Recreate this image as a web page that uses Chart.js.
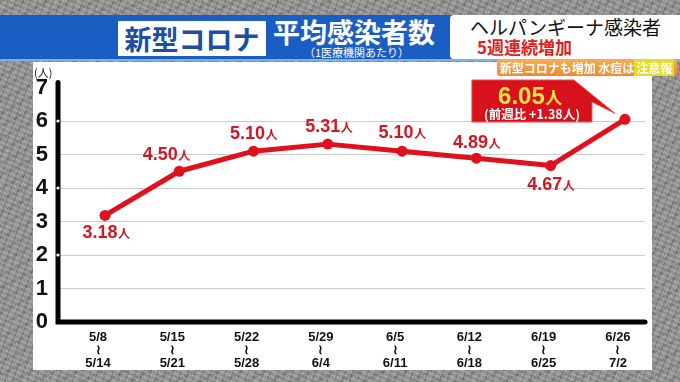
<!DOCTYPE html>
<html><head><meta charset="utf-8">
<script src="https://cdn.jsdelivr.net/npm/chart.js@4.4.0/dist/chart.umd.min.js"></script>
<style>
html,body{margin:0;padding:0;width:680px;height:382px;overflow:hidden;background:#8c8c8c;font-family:"Noto Sans CJK JP",sans-serif;}
#bg{position:absolute;left:0;top:0;width:680px;height:382px;
 background:
  repeating-linear-gradient(23deg, rgba(255,255,255,0.16) 0 2px, rgba(0,0,0,0) 2px 5px),
  repeating-linear-gradient(111deg, rgba(0,0,0,0.13) 0 2px, rgba(0,0,0,0) 2px 7px),
  repeating-linear-gradient(67deg, rgba(255,255,255,0.10) 0 1px, rgba(0,0,0,0) 1px 3px),
  repeating-linear-gradient(152deg, rgba(0,0,0,0.10) 0 3px, rgba(0,0,0,0) 3px 11px),
  #8f8f8f;}
#band{position:absolute;left:0;top:15px;width:680px;height:44px;background:#1b5ec3;border-bottom:2px solid #7fb0e6;}
#tag1{position:absolute;left:118px;top:21px;width:148px;height:35px;background:#fff;color:#1d4ea3;font-weight:bold;font-size:27px;line-height:35px;text-align:center;}
#title{position:absolute;left:273px;top:15px;color:#fff;font-weight:bold;font-size:27px;line-height:34px;white-space:nowrap;}
#sub{position:absolute;left:304px;top:45px;color:#fff;font-size:11px;line-height:14px;white-space:nowrap;}
#rbox{position:absolute;left:450px;top:15px;width:230px;height:44px;background:#fff;border-radius:4px 0 0 4px;}
#r1{position:absolute;left:470px;top:15px;color:#111;font-size:19px;line-height:24px;white-space:nowrap;}
#r2{position:absolute;left:477px;top:36px;color:#e02020;font-weight:bold;font-size:17px;line-height:22px;white-space:nowrap;}
#pill{position:absolute;left:497px;top:59px;width:180px;height:17px;background:linear-gradient(#f7ad55,#ef8a2c);border-radius:3px;color:#fff;font-weight:bold;font-size:12px;line-height:17px;white-space:nowrap;text-align:center;z-index:5;}
#pill span{background:#e3dd2a;color:#fff;padding:0 2px;}
#panel{position:absolute;left:33px;top:62px;width:619px;height:308px;background:#fff;}
#unit{position:absolute;left:34px;top:65px;color:#111;font-size:11px;line-height:14px;z-index:4;}
canvas{position:absolute;left:0;top:0;z-index:3;}
</style></head>
<body>
<div id="bg"></div>
<div id="panel"></div>
<div id="band"></div>
<div id="tag1">新型コロナ</div>
<div id="title">平均感染者数</div>
<div id="sub">（1医療機関あたり）</div>
<div id="rbox"></div>
<div id="r1">ヘルパンギーナ感染者</div>
<div id="r2">5週連続増加</div>
<div id="pill">新型コロナも増加 水痘は<span>注意報</span></div>
<div id="unit">(人)</div>
<canvas id="c" width="680" height="382"></canvas>
<script>
const weekStart = ['5/8','5/15','5/22','5/29','6/5','6/12','6/19','6/26'];
const weekEnd   = ['5/14','5/21','5/28','6/4','6/11','6/18','6/25','7/2'];
const values    = [3.18, 4.50, 5.10, 5.31, 5.10, 4.89, 4.67, 6.05];
const valueText = ['3.18','4.50','5.10','5.31','5.10','4.89','4.67','6.05'];
const changeText = '(前週比 +1.38人)';
const yTicks = [0,1,2,3,4,5,6,7];

const RED = '#e0101c';
const LABEL_RED = '#d01822';
const NUMFONT = '"Liberation Sans", "Noto Sans CJK JP", sans-serif';
const JPFONT = '"Noto Sans CJK JP", sans-serif';

// label offsets (pixels, relative to point)
const labelOffsets = [[1,16],[-13,-18],[0,-19],[1,-19],[0,-20],[0,-17],[0,18]];

const axesPlugin = {
  id:'axes',
  beforeDatasetsDraw(chart){
    const {ctx, chartArea:{left,right,top,bottom}} = chart;
    const ys = chart.scales.y;
    ctx.save();
    ctx.strokeStyle = '#000';
    ctx.lineWidth = 5;
    ctx.lineCap = 'round';
    ctx.lineJoin = 'miter';
    ctx.beginPath();
    ctx.moveTo(left, top - 5);
    ctx.lineTo(left, bottom);
    ctx.lineTo(right, bottom);
    ctx.stroke();
    ctx.fillStyle = '#fff';
    [2,4,6].forEach(v=>{
      ctx.beginPath();
      ctx.arc(left, ys.getPixelForValue(v), 1.6, 0, Math.PI*2);
      ctx.fill();
    });
    ctx.restore();
  }
};

function drawValue(ctx, cx, cy, num, color, numSize, unitSize){
  ctx.font = `bold ${numSize}px ${NUMFONT}`;
  const w1 = ctx.measureText(num).width;
  ctx.font = `bold ${unitSize}px ${JPFONT}`;
  const w2 = ctx.measureText('人').width;
  const x0 = cx - (w1 + w2)/2;
  const base = cy + numSize*0.36;
  ctx.fillStyle = color;
  ctx.textAlign = 'left';
  ctx.textBaseline = 'alphabetic';
  ctx.font = `bold ${numSize}px ${NUMFONT}`;
  ctx.fillText(num, x0, base);
  ctx.font = `bold ${unitSize}px ${JPFONT}`;
  ctx.fillText('人', x0 + w1 + 0.5, base);
}

const labelsPlugin = {
  id:'vlabels',
  afterDatasetsDraw(chart){
    const {ctx} = chart;
    const pts = chart.getDatasetMeta(0).data;
    ctx.save();
    for (let i = 0; i < pts.length - 1; i++){
      const p = pts[i];
      const [dx,dy] = labelOffsets[i];
      drawValue(ctx, p.x + dx, p.y + dy, valueText[i], LABEL_RED, 18, 12);
    }
    // callout for last point
    const last = pts[pts.length-1];
    const ys = chart.scales.y;
    const bTop = ys.getPixelForValue(7) - 7.5;
    const bBot = bTop + 42;
    const bRight = last.x - 33;
    const bLeft = bRight - 120;
    ctx.fillStyle = '#d8121c';
    ctx.strokeStyle = '#f04a4a';
    ctx.lineWidth = 1;
    ctx.beginPath();
    ctx.moveTo(bLeft, bTop);
    ctx.lineTo(bRight - 18, bTop);
    ctx.lineTo(last.x - 10, last.y - 6);
    ctx.lineTo(bRight, bTop + 22);
    ctx.lineTo(bRight, bBot);
    ctx.lineTo(bLeft, bBot);
    ctx.closePath();
    ctx.fill();
    ctx.stroke();
    const cx = (bLeft + bRight)/2;
    drawValue(ctx, cx - 2, bTop + 15, valueText[valueText.length-1], '#ffe23c', 24, 17);
    ctx.fillStyle = '#fff';
    ctx.font = `bold 12.5px ${JPFONT}`;
    ctx.textAlign = 'center';
    ctx.textBaseline = 'middle';
    ctx.fillText(changeText, cx, bTop + 34);
    ctx.restore();
  }
};

new Chart(document.getElementById('c').getContext('2d'), {
  type:'line',
  data:{datasets:[{
    data: values.map((v,i)=>({x:i, y:v})),
    borderColor: RED, backgroundColor: RED,
    borderWidth: 5, pointRadius: 5.5, pointHoverRadius: 5.5,
    pointBorderWidth: 0, tension: 0, borderJoinStyle:'round', borderCapStyle:'round'
  }]},
  options:{
    responsive:false, animation:false, events:[],
    layout:{padding:{top:87.5, right:35, left:0, bottom:0}},
    plugins:{legend:{display:false}, tooltip:{enabled:false}},
    scales:{
      x:{
        type:'linear', min:-0.633, max:7.27,
        grid:{display:false}, border:{display:false},
        afterBuildTicks: s => { s.ticks = weekStart.map((_, i) => ({value:i})); },
        afterFit: s => { s.height = 60; },
        ticks:{
          autoSkip:false, maxRotation:0, minRotation:0, padding:1, labelOffset:-7,
          color:'#111', font:{size:13, weight:'bold', family:NUMFONT, lineHeight:1.0},
          callback:(v,i)=>[weekStart[i], '≀', weekEnd[i]]
        }
      },
      y:{
        min:0, max:7,
        afterBuildTicks: s => { s.ticks = yTicks.map(v => ({value:v})); },
        afterFit: s => { s.width = 58; },
        grid:{color: c => (c.tick.value > 0 && c.tick.value < 7) ? '#cccccc' : 'rgba(0,0,0,0)', lineWidth:1, drawTicks:false},
        border:{display:false},
        ticks:{color:'#111', padding:10, font:{size:22, weight:'bold', family:NUMFONT}}
      }
    }
  },
  plugins:[axesPlugin, labelsPlugin]
});
</script>
</body></html>
